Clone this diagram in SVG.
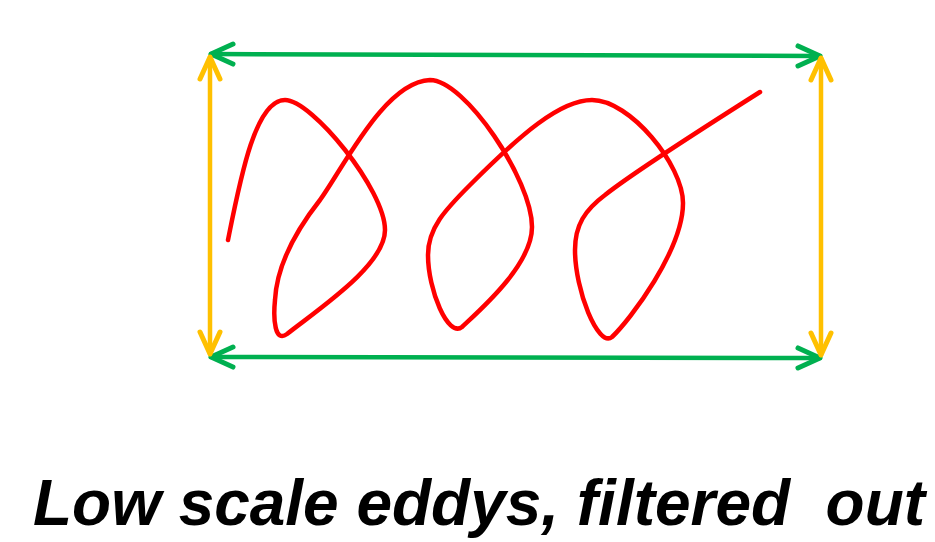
<svg xmlns="http://www.w3.org/2000/svg" width="935" height="542" viewBox="0 0 935 542">
  <style>
    .green { stroke: #00B050; stroke-width: 4.5; fill: none; stroke-linecap: round; stroke-linejoin: round; }
    .yellow { stroke: #FFC000; stroke-width: 4.5; fill: none; stroke-linecap: round; stroke-linejoin: round; }
    .eddy { stroke: #FF0000; stroke-width: 4.5; fill: none; stroke-linecap: round; stroke-linejoin: round; }
    .caption { font-family: "Liberation Sans", Arial, sans-serif; font-weight: bold; font-style: italic; font-size: 64px; fill: #000000; white-space: pre; }
  </style>
  <defs>
    <marker id="headGreen" viewBox="0 0 30 30" refX="26" refY="15" markerWidth="30" markerHeight="30" markerUnits="userSpaceOnUse" orient="auto-start-reverse">
      <path d="M4,5 L26,15 L4,25" fill="none" stroke="#00B050" stroke-width="5" stroke-linecap="round" stroke-linejoin="round"/>
    </marker>
    <marker id="headYellow" viewBox="0 0 30 30" refX="26" refY="15" markerWidth="30" markerHeight="30" markerUnits="userSpaceOnUse" orient="auto-start-reverse">
      <path d="M4,5 L26,15 L4,25" fill="none" stroke="#FFC000" stroke-width="5" stroke-linecap="round" stroke-linejoin="round"/>
    </marker>
  </defs>

  <g id="connectors">
    <!-- horizontal extent arrows -->
    <line id="top-span" class="green" x1="211" y1="54" x2="820" y2="56" marker-start="url(#headGreen)" marker-end="url(#headGreen)"/>
    <line id="bottom-span" class="green" x1="211" y1="357" x2="820" y2="358" marker-start="url(#headGreen)" marker-end="url(#headGreen)"/>
    <!-- vertical extent arrows -->
    <line id="left-span" class="yellow" x1="210" y1="57" x2="210" y2="354" marker-start="url(#headYellow)" marker-end="url(#headYellow)"/>
    <line id="right-span" class="yellow" x1="821" y1="58" x2="821" y2="355" marker-start="url(#headYellow)" marker-end="url(#headYellow)"/>
  </g>

  <g id="eddy-curve">
    <path class="eddy" d="M228,240
      C 240,180 255,100 285,100
      C 312,100 385,190 385,230
      C 385,265 320,308 287,334
      C 275,343 273,320 275,300
      C 277,262 298,228 320,200
      C 345,165 385,82 430,80
      C 465,80 532,180 532,227
      C 532,265 480,310 462,327
      C 448,338 428,290 428,255
      C 428,228 445,210 470,185
      C 520,135 560,100 592,100
      C 630,100 683,165 683,203
      C 683,250 630,320 612,337
      C 598,348 575,290 575,250
      C 575,225 585,210 605,195
      C 630,175 700,130 760,92"/>
  </g>

  <g id="caption">
    <text class="caption" x="33" y="525" textLength="892" lengthAdjust="spacingAndGlyphs" xml:space="preserve">Low scale eddys, filtered  out</text>
  </g>
</svg>
